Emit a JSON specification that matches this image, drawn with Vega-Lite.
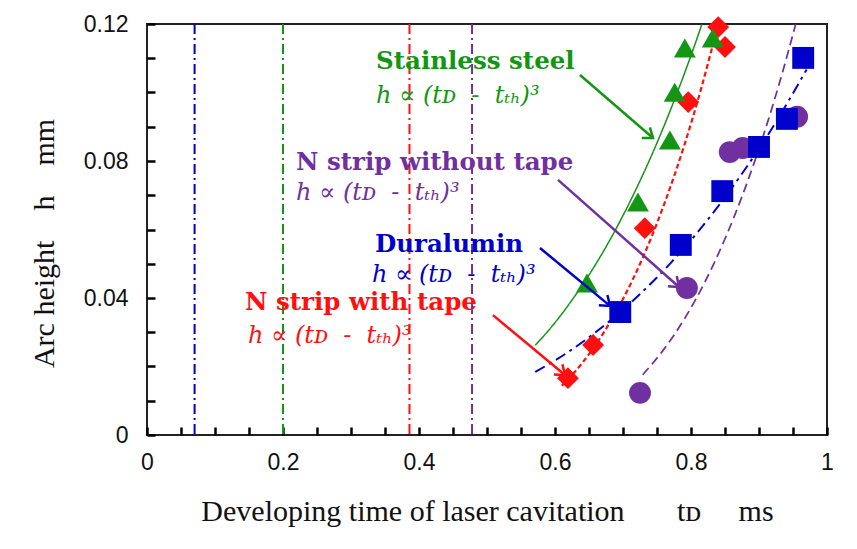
{
  "$schema": "https://vega.github.io/schema/vega-lite/v6.json",
  "width": 680,
  "height": 411,
  "autosize": "none",
  "padding": {"left": 147, "top": 24, "right": 30, "bottom": 114},
  "background": "white",
  "config": {
    "view": {"stroke": "#222222", "strokeWidth": 2},
    "axis": {
      "domain": false,
      "grid": false,
      "ticks": true,
      "tickColor": "#000000",
      "tickOpacity": 1,
      "tickWidth": 2.5,
      "tickSize": 8,
      "offset": -8,
      "zindex": 2,
      "labelFont": "Liberation Sans",
      "labelFontSize": 23,
      "labelColor": "#111111",
      "titleFont": "Liberation Serif",
      "titleFontSize": 30,
      "titleFontWeight": "normal",
      "titleColor": "#111111",
      "titleBaseline": "alphabetic",
      "labelOverlap": false,
      "labelFlush": false
    }
  },
  "datasets": {
    "points": [
      {"series": "N strip without tape", "t": 0.725, "h": 0.0123},
      {"series": "N strip without tape", "t": 0.794, "h": 0.0429},
      {"series": "N strip without tape", "t": 0.857, "h": 0.0826},
      {"series": "N strip without tape", "t": 0.876, "h": 0.0838},
      {"series": "N strip without tape", "t": 0.956, "h": 0.0929},
      {"series": "N strip with tape", "t": 0.619, "h": 0.0166},
      {"series": "N strip with tape", "t": 0.656, "h": 0.0263},
      {"series": "N strip with tape", "t": 0.732, "h": 0.0604},
      {"series": "N strip with tape", "t": 0.796, "h": 0.0972},
      {"series": "N strip with tape", "t": 0.85, "h": 0.1133},
      {"series": "N strip with tape", "t": 0.84, "h": 0.1191},
      {"series": "Duralumin", "t": 0.696, "h": 0.0359},
      {"series": "Duralumin", "t": 0.785, "h": 0.0555},
      {"series": "Duralumin", "t": 0.846, "h": 0.0712},
      {"series": "Duralumin", "t": 0.9, "h": 0.0841},
      {"series": "Duralumin", "t": 0.941, "h": 0.0923},
      {"series": "Duralumin", "t": 0.965, "h": 0.1101},
      {"series": "Stainless steel", "t": 0.647, "h": 0.0444},
      {"series": "Stainless steel", "t": 0.722, "h": 0.068},
      {"series": "Stainless steel", "t": 0.769, "h": 0.0861},
      {"series": "Stainless steel", "t": 0.776, "h": 0.1001},
      {"series": "Stainless steel", "t": 0.791, "h": 0.113},
      {"series": "Stainless steel", "t": 0.832, "h": 0.1159}
    ],
    "curves": [
      {"series": "Stainless steel", "t": 0.571, "h": 0.0262},
      {"series": "Stainless steel", "t": 0.6, "h": 0.0328},
      {"series": "Stainless steel", "t": 0.63, "h": 0.0408},
      {"series": "Stainless steel", "t": 0.66, "h": 0.0499},
      {"series": "Stainless steel", "t": 0.69, "h": 0.0603},
      {"series": "Stainless steel", "t": 0.72, "h": 0.0721},
      {"series": "Stainless steel", "t": 0.75, "h": 0.0853},
      {"series": "Stainless steel", "t": 0.78, "h": 0.1001},
      {"series": "Stainless steel", "t": 0.8, "h": 0.1108},
      {"series": "Stainless steel", "t": 0.816, "h": 0.1199},
      {"series": "N strip with tape", "t": 0.61, "h": 0.0144},
      {"series": "N strip with tape", "t": 0.64, "h": 0.021},
      {"series": "N strip with tape", "t": 0.67, "h": 0.0294},
      {"series": "N strip with tape", "t": 0.7, "h": 0.0397},
      {"series": "N strip with tape", "t": 0.73, "h": 0.0522},
      {"series": "N strip with tape", "t": 0.76, "h": 0.0671},
      {"series": "N strip with tape", "t": 0.79, "h": 0.0845},
      {"series": "N strip with tape", "t": 0.815, "h": 0.1012},
      {"series": "N strip with tape", "t": 0.84, "h": 0.12},
      {"series": "Duralumin", "t": 0.571, "h": 0.0184},
      {"series": "Duralumin", "t": 0.62, "h": 0.0243},
      {"series": "Duralumin", "t": 0.67, "h": 0.0316},
      {"series": "Duralumin", "t": 0.72, "h": 0.0402},
      {"series": "Duralumin", "t": 0.77, "h": 0.0502},
      {"series": "Duralumin", "t": 0.82, "h": 0.0617},
      {"series": "Duralumin", "t": 0.87, "h": 0.0749},
      {"series": "Duralumin", "t": 0.92, "h": 0.0898},
      {"series": "Duralumin", "t": 0.97, "h": 0.1067},
      {"series": "N strip without tape", "t": 0.729, "h": 0.0176},
      {"series": "N strip without tape", "t": 0.76, "h": 0.025},
      {"series": "N strip without tape", "t": 0.79, "h": 0.0338},
      {"series": "N strip without tape", "t": 0.82, "h": 0.0445},
      {"series": "N strip without tape", "t": 0.85, "h": 0.0573},
      {"series": "N strip without tape", "t": 0.88, "h": 0.0723},
      {"series": "N strip without tape", "t": 0.91, "h": 0.0897},
      {"series": "N strip without tape", "t": 0.935, "h": 0.1062},
      {"series": "N strip without tape", "t": 0.954, "h": 0.12}
    ],
    "thresholds": [
      {"series": "Duralumin", "t": 0.07},
      {"series": "Stainless steel", "t": 0.2},
      {"series": "N strip with tape", "t": 0.386},
      {"series": "N strip without tape", "t": 0.478}
    ],
    "labels": [
      {"series": "Stainless steel", "kind": "name", "text": "Stainless steel", "x": 0.3368, "y": 0.1089},
      {"series": "Stainless steel", "kind": "formula", "text": "h\u00a0∝\u00a0(tᴅ\u00a0\u00a0-\u00a0\u00a0tₜₕ)³", "x": 0.3368, "y": 0.099},
      {"series": "N strip without tape", "kind": "name", "text": "N strip without tape", "x": 0.2191, "y": 0.0794},
      {"series": "N strip without tape", "kind": "formula", "text": "h\u00a0∝\u00a0(tᴅ\u00a0\u00a0-\u00a0\u00a0tₜₕ)³", "x": 0.2191, "y": 0.0707},
      {"series": "Duralumin", "kind": "name", "text": "Duralumin", "x": 0.3353, "y": 0.0555},
      {"series": "Duralumin", "kind": "formula", "text": "h\u00a0∝\u00a0(tᴅ\u00a0\u00a0-\u00a0\u00a0tₜₕ)³", "x": 0.3309, "y": 0.0467},
      {"series": "N strip with tape", "kind": "name", "text": "N strip with tape", "x": 0.1441, "y": 0.0386},
      {"series": "N strip with tape", "kind": "formula", "text": "h\u00a0∝\u00a0(tᴅ\u00a0\u00a0-\u00a0\u00a0tₜₕ)³", "x": 0.1485, "y": 0.0289}
    ],
    "arrows": [
      {"series": "Stainless steel", "x1": 0.6368, "y1": 0.1051, "x2": 0.7441, "y2": 0.0867},
      {"series": "N strip without tape", "x1": 0.6044, "y1": 0.0745, "x2": 0.7824, "y2": 0.0432},
      {"series": "Duralumin", "x1": 0.5779, "y1": 0.0546, "x2": 0.6809, "y2": 0.0377},
      {"series": "N strip with tape", "x1": 0.5088, "y1": 0.035, "x2": 0.6147, "y2": 0.0175}
    ]
  },
  "encoding": {
    "x": {
      "type": "quantitative",
      "scale": {"domain": [0, 1], "nice": false, "zero": false},
      "axis": {
        "title": "Developing time of laser cavitation\u00a0\u00a0\u00a0\u00a0\u00a0\u00a0\u00a0tᴅ\u00a0\u00a0\u00a0\u00a0\u00a0ms",
        "values": [0, 0.05, 0.1, 0.15, 0.2, 0.25, 0.3, 0.35, 0.4, 0.45, 0.5, 0.55, 0.6, 0.65, 0.7, 0.75, 0.8, 0.85, 0.9, 0.95, 1],
        "labelExpr": "abs(datum.value * 5 - round(datum.value * 5)) < 0.000001 ? format(datum.value, '~g') : ''",
        "labelPadding": 16,
        "titleY": 93
      }
    },
    "y": {
      "type": "quantitative",
      "scale": {"domain": [0, 0.12], "nice": false, "zero": false},
      "axis": {
        "title": "Arc height\u00a0\u00a0\u00a0\u00a0h\u00a0\u00a0\u00a0\u00a0mm",
        "values": [0, 0.01, 0.02, 0.03, 0.04, 0.05, 0.06, 0.07, 0.08, 0.09, 0.1, 0.11, 0.12],
        "labelExpr": "abs(datum.value * 25 - round(datum.value * 25)) < 0.000001 ? format(datum.value, '~g') : ''",
        "labelPadding": 19,
        "titleX": -102,
        "titleY": 219
      }
    },
    "color": {
      "field": "series",
      "type": "nominal",
      "scale": {
        "domain": ["Stainless steel", "N strip without tape", "Duralumin", "N strip with tape"],
        "range": ["#139613", "#7030a0", "#0000cc", "#ff1010"]
      },
      "legend": null
    }
  },
  "layer": [
    {
      "data": {"name": "thresholds"},
      "mark": {"type": "rule", "strokeWidth": 2, "strokeDash": [10, 4, 2, 4]},
      "encoding": {"x": {"field": "t"}}
    },
    {
      "data": {"name": "curves"},
      "mark": {"type": "line", "interpolate": "monotone"},
      "encoding": {
        "x": {"field": "t"},
        "y": {"field": "h"},
        "detail": {"field": "series", "type": "nominal"},
        "strokeDash": {
          "field": "series",
          "type": "nominal",
          "scale": {
            "domain": ["Stainless steel", "N strip without tape", "Duralumin", "N strip with tape"],
            "range": [[1, 0], [9, 5], [11, 5, 3, 5], [5, 3]]
          },
          "legend": null
        },
        "strokeWidth": {
          "field": "series",
          "type": "nominal",
          "scale": {
            "domain": ["Stainless steel", "N strip without tape", "Duralumin", "N strip with tape"],
            "range": [1.5, 2.2, 2.2, 2.2]
          },
          "legend": null
        }
      }
    },
    {
      "data": {"name": "points"},
      "mark": {"type": "point", "filled": true, "opacity": 1, "size": 480},
      "encoding": {
        "x": {"field": "t"},
        "y": {"field": "h"},
        "shape": {
          "field": "series",
          "type": "nominal",
          "scale": {
            "domain": ["Stainless steel", "N strip without tape", "Duralumin", "N strip with tape"],
            "range": ["triangle-up", "circle", "square", "diamond"]
          },
          "legend": null
        }
      }
    },
    {
      "data": {"name": "arrows"},
      "mark": {"type": "rule", "strokeWidth": 2.5},
      "encoding": {
        "x": {"field": "x1"},
        "y": {"field": "y1"},
        "x2": {"field": "x2"},
        "y2": {"field": "y2"}
      }
    },
    {
      "data": {"name": "arrows"},
      "transform": [{"filter": "datum.series === 'Stainless steel'"}],
      "mark": {"type": "point", "shape": "M -1 -0.75 L 0 0 L -1 0.75", "filled": false, "strokeWidth": 2.5, "size": 320, "angle": 37, "opacity": 1},
      "encoding": {"x": {"field": "x2"}, "y": {"field": "y2"}}
    },
    {
      "data": {"name": "arrows"},
      "transform": [{"filter": "datum.series === 'N strip without tape'"}],
      "mark": {"type": "point", "shape": "M -1 -0.75 L 0 0 L -1 0.75", "filled": false, "strokeWidth": 2.5, "size": 320, "angle": 41.5, "opacity": 1},
      "encoding": {"x": {"field": "x2"}, "y": {"field": "y2"}}
    },
    {
      "data": {"name": "arrows"},
      "transform": [{"filter": "datum.series === 'Duralumin'"}],
      "mark": {"type": "point", "shape": "M -1 -0.75 L 0 0 L -1 0.75", "filled": false, "strokeWidth": 2.5, "size": 320, "angle": 39.6, "opacity": 1},
      "encoding": {"x": {"field": "x2"}, "y": {"field": "y2"}}
    },
    {
      "data": {"name": "arrows"},
      "transform": [{"filter": "datum.series === 'N strip with tape'"}],
      "mark": {"type": "point", "shape": "M -1 -0.75 L 0 0 L -1 0.75", "filled": false, "strokeWidth": 2.5, "size": 320, "angle": 39.8, "opacity": 1},
      "encoding": {"x": {"field": "x2"}, "y": {"field": "y2"}}
    },
    {
      "data": {"name": "labels"},
      "transform": [{"filter": "datum.kind === 'name'"}],
      "mark": {"type": "text", "align": "left", "baseline": "middle", "font": "DejaVu Serif", "fontSize": 24.5, "fontWeight": "bold"},
      "encoding": {"x": {"field": "x"}, "y": {"field": "y"}, "text": {"field": "text"}}
    },
    {
      "data": {"name": "labels"},
      "transform": [{"filter": "datum.kind === 'formula'"}],
      "mark": {"type": "text", "align": "left", "baseline": "middle", "font": "DejaVu Serif", "fontSize": 24, "fontStyle": "italic"},
      "encoding": {"x": {"field": "x"}, "y": {"field": "y"}, "text": {"field": "text"}}
    }
  ]
}
